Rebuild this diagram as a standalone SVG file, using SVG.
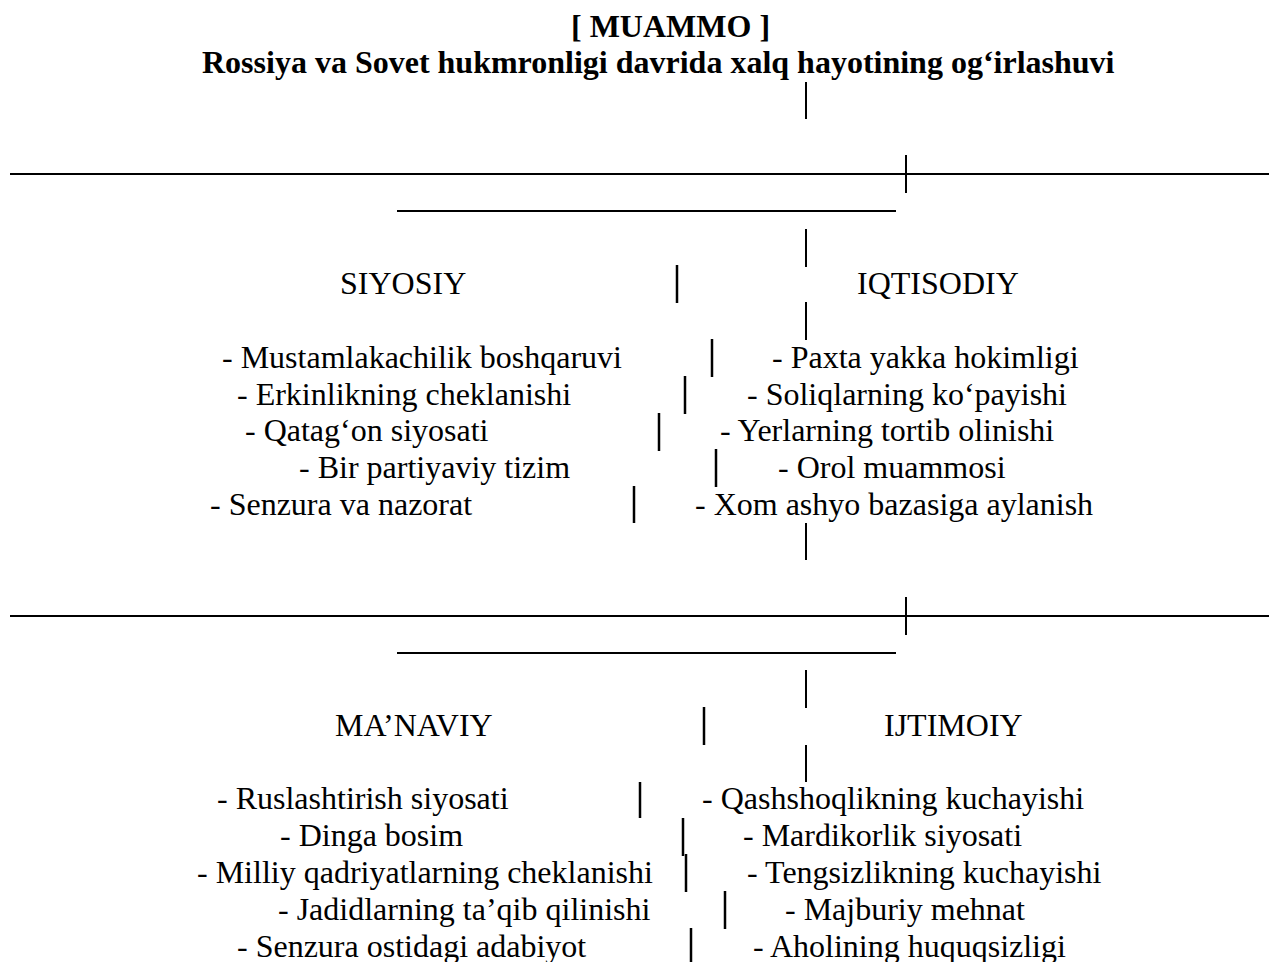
<svg xmlns="http://www.w3.org/2000/svg" width="1269" height="962" viewBox="0 0 1269 962">
<style>
text{font-family:'Liberation Serif','Times New Roman',serif;font-size:32px;fill:#000}
.b{font-weight:bold}
.h{stroke:#000;stroke-width:2.2;fill:none}
.v{stroke:#000;stroke-width:2;fill:none}
.r{stroke:#000;stroke-width:2.5;fill:none}
</style>
<rect width="1269" height="962" fill="#fff"/>
<g id="connectors">
<line class="v" x1="806" y1="82" x2="806" y2="119"/>
<line class="h" x1="10" y1="174" x2="1269" y2="174"/>
<line class="v" x1="906" y1="155" x2="906" y2="193"/>
<line class="h" x1="397" y1="211" x2="896" y2="211"/>
<line class="v" x1="806" y1="229" x2="806" y2="267"/>
<line class="r" x1="677" y1="265" x2="677" y2="303"/>
<line class="v" x1="806" y1="302" x2="806" y2="340"/>
<line class="r" x1="712" y1="339" x2="712" y2="377"/>
<line class="r" x1="685" y1="376" x2="685" y2="414"/>
<line class="r" x1="659" y1="413" x2="659" y2="451"/>
<line class="r" x1="716" y1="449" x2="716" y2="487"/>
<line class="r" x1="634" y1="486" x2="634" y2="523"/>
<line class="v" x1="806" y1="523" x2="806" y2="560"/>
<line class="h" x1="10" y1="616" x2="1269" y2="616"/>
<line class="v" x1="906" y1="597" x2="906" y2="635"/>
<line class="h" x1="397" y1="653" x2="896" y2="653"/>
<line class="v" x1="806" y1="670" x2="806" y2="708"/>
<line class="r" x1="704" y1="707" x2="704" y2="745"/>
<line class="v" x1="806" y1="745" x2="806" y2="782"/>
<line class="r" x1="640" y1="782" x2="640" y2="818"/>
<line class="r" x1="683" y1="818" x2="683" y2="856"/>
<line class="r" x1="686" y1="854" x2="686" y2="892"/>
<line class="r" x1="725" y1="891" x2="725" y2="929"/>
<line class="r" x1="691" y1="928" x2="691" y2="966"/>
</g>
<g font-family="Liberation Serif, Times New Roman, serif" font-size="32">
<g id="title">
<text class="b" x="571" y="37">[ MUAMMO ]</text>
<text class="b" x="202" y="73">Rossiya va Sovet hukmronligi davrida xalq hayotining og‘irlashuvi</text>
</g>
<g id="siyosiy">
<text x="340" y="294">SIYOSIY</text>
<text x="222" y="368">- Mustamlakachilik boshqaruvi</text>
<text x="237" y="405">- Erkinlikning cheklanishi</text>
<text x="245" y="441">- Qatag‘on siyosati</text>
<text x="299" y="478">- Bir partiyaviy tizim</text>
<text x="210" y="515">- Senzura va nazorat</text>
</g>
<g id="iqtisodiy">
<text x="857" y="294">IQTISODIY</text>
<text x="772" y="368">- Paxta yakka hokimligi</text>
<text x="747" y="405">- Soliqlarning ko‘payishi</text>
<text x="720" y="441">- Yerlarning tortib olinishi</text>
<text x="778" y="478">- Orol muammosi</text>
<text x="695" y="515">- Xom ashyo bazasiga aylanish</text>
</g>
<g id="manaviy">
<text x="335" y="736">MA’NAVIY</text>
<text x="217" y="809">- Ruslashtirish siyosati</text>
<text x="280" y="846">- Dinga bosim</text>
<text x="197" y="883">- Milliy qadriyatlarning cheklanishi</text>
<text x="278" y="920">- Jadidlarning ta’qib qilinishi</text>
<text x="237" y="957">- Senzura ostidagi adabiyot</text>
</g>
<g id="ijtimoiy">
<text x="884" y="736">IJTIMOIY</text>
<text x="702" y="809">- Qashshoqlikning kuchayishi</text>
<text x="743" y="846">- Mardikorlik siyosati</text>
<text x="747" y="883">- Tengsizlikning kuchayishi</text>
<text x="785" y="920">- Majburiy mehnat</text>
<text x="753" y="957">- Aholining huquqsizligi</text>
</g>
</g>
</svg>
